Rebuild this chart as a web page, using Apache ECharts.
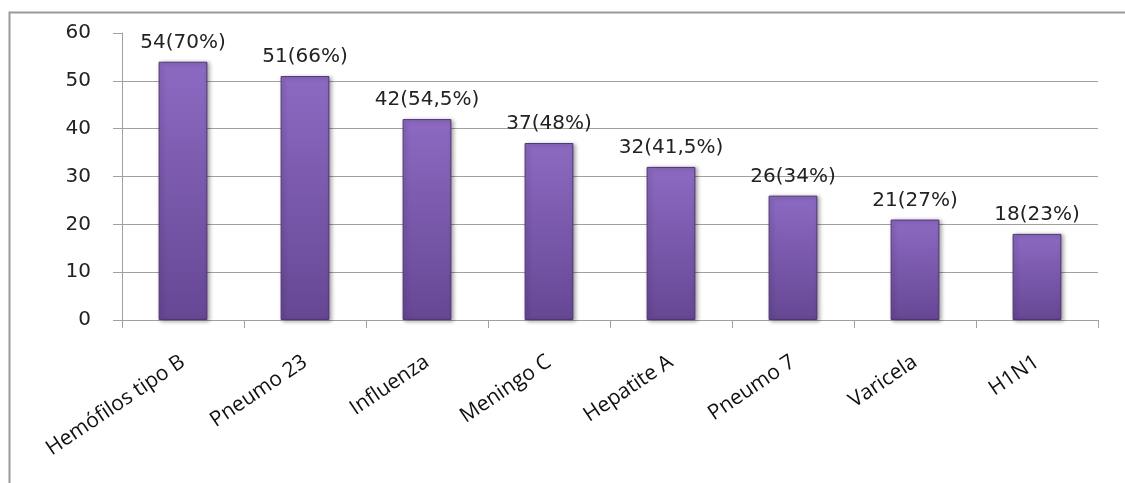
<!DOCTYPE html>
<html>
<head>
<meta charset="utf-8">
<script src="https://cdn.jsdelivr.net/npm/echarts@6/dist/echarts.min.js"></script>
<style>html,body{margin:0;padding:0;background:#fff}#c{width:1125px;height:483px}</style>
</head>
<body>
<div id="c"></div>
<script>
const categories = ['Hemófilos tipo B', 'Pneumo 23', 'Influenza', 'Meningo C', 'Hepatite A', 'Pneumo 7', 'Varicela', 'H1N1'];
const counts = [54, 51, 42, 37, 32, 26, 21, 18];
const percents = ['70%', '66%', '54,5%', '48%', '41,5%', '34%', '27%', '23%'];
const yTicks = [0, 10, 20, 30, 40, 50, 60];

const chart = echarts.init(document.getElementById('c'), null, {renderer: 'canvas'});
const gridColor = '#a0a0a0';
chart.setOption({
  animation: false,
  backgroundColor: '#fff',
  graphic: [{
    type: 'rect', left: 7, top: 10, silent: true,
    shape: {width: 1140, height: 490},
    style: {fill: 'none', stroke: '#9a9a9a', lineWidth: 2}
  }],
  grid: {left: 122, right: 27, top: 33, bottom: 163},
  xAxis: {
    type: 'category',
    data: categories,
    axisLine: {lineStyle: {color: gridColor, width: 1}},
    axisTick: {show: true, length: 8, lineStyle: {color: gridColor}},
    axisLabel: {
      rotate: 34, margin: 40, fontFamily: 'Open Sans', fontSize: 21, color: '#111',
      interval: 0
    }
  },
  yAxis: {
    type: 'value',
    min: yTicks[0], max: yTicks[yTicks.length - 1], interval: 10,
    axisLine: {show: true, lineStyle: {color: gridColor, width: 1}},
    axisTick: {show: true, length: 9, lineStyle: {color: gridColor}},
    axisLabel: {margin: 31, fontFamily: 'DejaVu Sans', fontSize: 20, color: '#222'},
    splitLine: {show: true, lineStyle: {color: yTicks.map((t, i) => i === yTicks.length - 1 ? 'rgba(0,0,0,0)' : gridColor), width: 1}}
  },
  series: [{
    type: 'bar',
    data: counts,
    barWidth: '40%',
    itemStyle: {
      color: new echarts.graphic.LinearGradient(0, 0, 0, 1, [
        {offset: 0, color: '#8c6ac2'},
        {offset: 1, color: '#664794'}
      ]),
      borderColor: '#4f3675', borderWidth: 1,
      shadowColor: 'rgba(0,0,0,0.35)', shadowBlur: 4, shadowOffsetX: 2, shadowOffsetY: 1
    },
    label: {
      show: true, position: 'top', distance: 9,
      fontFamily: 'DejaVu Sans', fontSize: 20, color: '#222',
      formatter: p => counts[p.dataIndex] + '(' + percents[p.dataIndex] + ')'
    }
  }]
});
</script>
</body>
</html>
